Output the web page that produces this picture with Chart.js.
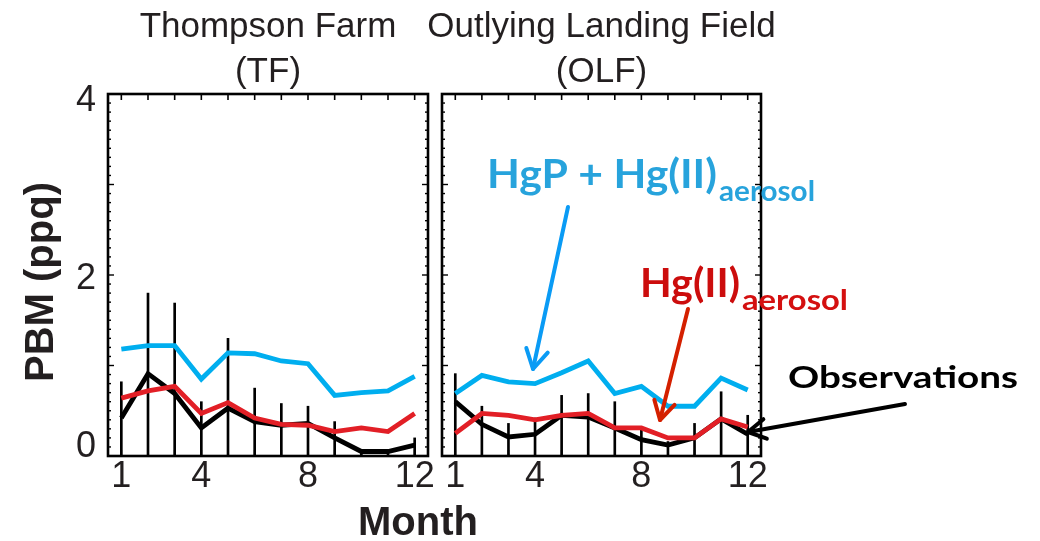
<!DOCTYPE html>
<html><head><meta charset="utf-8">
<script src="https://cdn.jsdelivr.net/npm/chart.js@4.4.1/dist/chart.umd.min.js"></script>
<style>
html,body{margin:0;padding:0;background:#fff;}
#wrap{position:relative;width:1040px;height:541px;overflow:hidden;}
#wrap canvas{position:absolute;left:0;top:0;}
</style></head><body>
<div id="wrap"><canvas id="c1" width="1040" height="541"></canvas><canvas id="c2" width="1040" height="541"></canvas></div>
<script>
// ---- data ----
const months = ['1','2','3','4','5','6','7','8','9','10','11','12'];
const xTickLabels = ['1','4','8','12'];
const yTickLabels = [0, 2, 4];
const tfTitle = ['Thompson Farm', '(TF)'];
const olfTitle = ['Outlying Landing Field', '(OLF)'];

// Thompson Farm (TF)
const tfModelTotal   = [1.18, 1.22, 1.22, 0.85, 1.14, 1.13, 1.05, 1.02, 0.67, 0.70, 0.72, 0.88];
const tfModelAerosol = [0.64, 0.72, 0.77, 0.47, 0.59, 0.42, 0.35, 0.34, 0.27, 0.31, 0.27, 0.47];
const tfObs          = [0.42, 0.91, 0.69, 0.31, 0.53, 0.38, 0.34, 0.36, 0.20, 0.05, 0.05, 0.12];
const tfObsHigh      = [0.82, 1.80, 1.69, 0.60, 1.30, 0.75, 0.58, 0.55, 0.38, 0.05, 0.05, 0.20];
const tfObsLow       = [0, 0, 0, 0, 0, 0, 0, 0, 0, 0, 0, 0];

// Outlying Landing Field (OLF)
const olfModelTotal   = [0.69, 0.89, 0.82, 0.80, 0.92, 1.05, 0.69, 0.77, 0.55, 0.55, 0.86, 0.73];
const olfModelAerosol = [0.25, 0.47, 0.45, 0.40, 0.45, 0.47, 0.31, 0.31, 0.20, 0.20, 0.41, 0.32];
const olfObs          = [0.60, 0.35, 0.21, 0.24, 0.45, 0.43, 0.31, 0.18, 0.12, 0.20, 0.41, 0.24];
const olfObsHigh      = [0.91, 0.55, 0.36, 0.42, 0.67, 0.69, 0.60, 0.32, 0.16, 0.36, 0.71, 0.45];
const olfObsLow       = [0, 0, 0, 0, 0, 0, 0, 0, 0, 0, 0, 0];

// ---- styles ----
const INK = '#231f20';
const FONT = '"Liberation Sans", Arial, Helvetica, sans-serif';
const AFONT = 'Lato, "Open Sans", sans-serif';
const BLUE = '#00aeef', RED = '#e21f26';

function seg(ctx, x1, y1, x2, y2) { ctx.beginPath(); ctx.moveTo(x1, y1); ctx.lineTo(x2, y2); ctx.stroke(); }

function drawFrame(chart) {
  const {ctx, chartArea: a, scales: {x, y}} = chart;
  ctx.save();
  ctx.strokeStyle = '#000';
  ctx.lineWidth = 1.6;
  for (let i = 0; i < x.ticks.length; i++) {
    const px = x.getPixelForTick(i);
    seg(ctx, px, a.bottom, px, a.bottom - 6);
    seg(ctx, px, a.top, px, a.top + 6);
  }
  ctx.lineWidth = 1.4;
  for (let k = 0; k <= (y.max - y.min) * 10; k++) {
    const v = y.min + k / 10;
    const py = y.getPixelForValue(v);
    const len = (k % 10 === 0) ? 6 : 3;
    seg(ctx, a.left, py, a.left + len, py);
    seg(ctx, a.right, py, a.right - len, py);
  }
  ctx.lineWidth = 2.6;
  ctx.strokeRect(a.left, a.top, a.right - a.left, a.bottom - a.top);
  ctx.restore();
}

// y tick labels: taken from the y scale, first/last kept inside the axis range
function drawYLabels(chart) {
  const {ctx, chartArea: a, scales: {y}} = chart;
  ctx.save();
  ctx.fillStyle = INK;
  ctx.font = '36px ' + FONT;
  ctx.textAlign = 'right';
  yTickLabels.forEach(v => {
    const py = y.getPixelForValue(v);
    let yy;
    if (v === y.max) { ctx.textBaseline = 'top'; yy = py - 11; }
    else if (v === y.min) { ctx.textBaseline = 'alphabetic'; yy = py + 1; }
    else { ctx.textBaseline = 'alphabetic'; yy = py + 14; }
    ctx.fillText(String(v), a.left - 12, yy);
  });
  ctx.restore();
}

function drawTitle(chart, lines) {
  const {ctx, chartArea: a} = chart;
  const cx = (a.left + a.right) / 2;
  ctx.save();
  ctx.fillStyle = INK;
  ctx.font = '35px ' + FONT;
  ctx.textAlign = 'center';
  ctx.textBaseline = 'alphabetic';
  ctx.fillText(lines[0], cx, 37);
  ctx.fillText(lines[1], cx, 82);
  ctx.restore();
}

function fitText(ctx, text, x, y, w, size, color) {
  ctx.save();
  ctx.font = 'bold ' + size + 'px ' + AFONT;
  const m = ctx.measureText(text).width;
  ctx.translate(x, y);
  ctx.scale(w / m, 1);
  ctx.fillStyle = color;
  ctx.textBaseline = 'alphabetic';
  ctx.textAlign = 'left';
  ctx.fillText(text, 0, 0);
  ctx.restore();
}

function arrow(ctx, x1, y1, x2, y2, color, width, head) {
  ctx.save();
  ctx.strokeStyle = color;
  ctx.lineWidth = width;
  ctx.lineCap = 'round';
  ctx.lineJoin = 'round';
  seg(ctx, x1, y1, x2, y2);
  const ang = Math.atan2(y1 - y2, x1 - x2);
  ctx.beginPath();
  ctx.moveTo(x2 + head * Math.cos(ang + 0.52), y2 + head * Math.sin(ang + 0.52));
  ctx.lineTo(x2, y2);
  ctx.lineTo(x2 + head * Math.cos(ang - 0.52), y2 + head * Math.sin(ang - 0.52));
  ctx.stroke();
  ctx.restore();
}

function makeChart(id, total, aerosol, obs, obsLow, obsHigh, padLeft, padRight, showY, titleLines, extra) {
  return new Chart(document.getElementById(id), {
    type: 'line',
    data: {
      labels: months,
      datasets: [
        {label: 'HgP + Hg(II) aerosol', data: total, borderColor: BLUE, borderWidth: 4.8, pointRadius: 0, tension: 0, order: 0},
        {label: 'Hg(II) aerosol', data: aerosol, borderColor: RED, borderWidth: 4.8, pointRadius: 0, tension: 0, order: 1},
        {label: 'Observations', data: obs, borderColor: '#000', borderWidth: 4.8, pointRadius: 0, tension: 0, order: 2},
        {type: 'bar', label: 'Observation spread', data: obsHigh.map((h, i) => [obsLow[i], h]),
         backgroundColor: '#000', barThickness: 2, grouped: false, order: 3}
      ]
    },
    options: {
      responsive: false, animation: false, events: [],
      layout: {padding: {left: padLeft, right: padRight, top: 94, bottom: 0}},
      plugins: {legend: {display: false}, tooltip: {enabled: false}, title: {display: false}},
      scales: {
        x: {
          type: 'category', offset: true,
          grid: {display: false, drawTicks: false}, border: {display: false},
          ticks: {
            autoSkip: false, maxRotation: 0, minRotation: 0, padding: -1, color: INK,
            font: {family: FONT, size: 36},
            callback: function (v) { const l = this.getLabelForValue(v); return xTickLabels.includes(l) ? l : ''; }
          },
          afterFit: s => { s.height = 85; }
        },
        y: {
          display: showY, min: 0, max: 4,
          grid: {display: false, drawTicks: false}, border: {display: false},
          ticks: {stepSize: 1, display: false},
          afterFit: s => { if (showY) s.width = 108; }
        }
      }
    },
    plugins: [{
      id: 'frame' + id,
      afterDatasetsDraw(chart) { drawFrame(chart); },
      afterDraw(chart) {
        if (showY) drawYLabels(chart);
        drawTitle(chart, titleLines);
        if (extra) extra(chart);
      }
    }]
  });
}

makeChart('c1', tfModelTotal, tfModelAerosol, tfObs, tfObsLow, tfObsHigh, 0, 612, true, tfTitle, chart => {
  const ctx = chart.ctx;
  ctx.save();
  ctx.fillStyle = INK;
  ctx.font = 'bold 40px ' + FONT;
  ctx.textAlign = 'center';
  ctx.textBaseline = 'alphabetic';
  ctx.fillText('Month', 418, 535);
  ctx.translate(53, 282);
  ctx.rotate(-Math.PI / 2);
  ctx.fillText('PBM (ppq)', 0, 0);
  ctx.restore();
});

makeChart('c2', olfModelTotal, olfModelAerosol, olfObs, olfObsLow, olfObsHigh, 442, 279, false, olfTitle, chart => {
  const ctx = chart.ctx;
  fitText(ctx, 'HgP + Hg(II)', 487, 188, 230, 41, '#27a3dc');
  fitText(ctx, 'aerosol', 719, 201, 96, 28, '#27a3dc');
  fitText(ctx, 'Hg(II)', 640, 297, 100, 41, '#cc0d0d');
  fitText(ctx, 'aerosol', 742, 310, 106, 28, '#d41010');
  fitText(ctx, 'Observations', 788, 388, 230, 31, '#000');
  arrow(ctx, 568, 207, 533, 369, '#0a9bf5', 4, 22);
  arrow(ctx, 688, 309, 660, 420, '#d42000', 4, 21);
  arrow(ctx, 905, 404, 748, 432, '#000', 4, 20);
});
</script>
</body></html>
